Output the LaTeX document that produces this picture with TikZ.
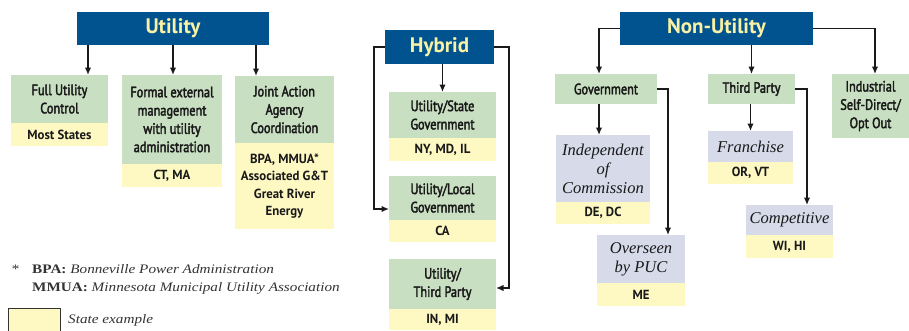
\documentclass[tikz,border=0pt]{standalone}
\usepackage{fontspec}
\usetikzlibrary{arrows.meta}
\newfontfamily\condf{PT Sans}[FakeStretch=0.82,FakeBold=2.5]
\newfontfamily\boldf{PT Sans}[FakeStretch=0.97]
\newfontfamily\titlef{PT Sans}
\newfontfamily\serf{Liberation Serif}
\newfontfamily\legf{Liberation Serif}[FakeStretch=1.17]
\definecolor{cgreen}{HTML}{C9DFC2}
\definecolor{cyellow}{HTML}{FEF9C3}
\definecolor{clav}{HTML}{D6DAE9}
\definecolor{cblue}{HTML}{00538F}
\definecolor{ctitle}{HTML}{F9F2A6}
\definecolor{cline}{HTML}{1A1A1A}
\tikzset{
  base/.style={inner sep=0pt, outer sep=0pt, anchor=north west, align=center, text=black!90},
  gbox/.style={base, fill=cgreen, font=\condf\fontsize{15}{18.3}\selectfont},
  ybox/.style={base, fill=cyellow, font=\boldf\bfseries\fontsize{13.2}{17.5}\selectfont},
  lbox/.style={base, fill=clav, font=\serf\itshape\fontsize{16.5}{19}\selectfont},
  tbox/.style={base, fill=cblue, text=ctitle, font=\titlef\bfseries\fontsize{21}{24}\selectfont},
  arr/.style={-{Latex[length=7.5pt,width=6.5pt]}, line width=1.4pt, draw=cline},
  legtext/.style={anchor=west, inner sep=0pt, font=\legf\itshape\fontsize{13}{15}\selectfont, text=black!80}
}
\begin{document}
\begin{tikzpicture}[x=1pt,y=-1pt]
\useasboundingbox (0,0) rectangle (909,330);
% Utility
\node[tbox, minimum width=192, minimum height=33] (U) at (77,12) {Utility};
\node[gbox, minimum width=97, minimum height=48] (u1g) at (11,75) {Full Utility\\Control};
\node[ybox, minimum width=97, minimum height=23] (u1y) at (11,123) {Most States};
\node[gbox, minimum width=100, minimum height=89] (u2g) at (122,75) {Formal external\\management\\with utility\\administration};
\node[ybox, minimum width=100, minimum height=23] (u2y) at (122,164) {CT, MA};
\node[gbox, minimum width=99, minimum height=67] (u3g) at (235,76) {Joint Action\\Agency\\Coordination};
\node[ybox, minimum width=99, minimum height=86] (u3y) at (235,143) {BPA, MMUA*\\Associated G\&T\\Great River\\Energy};
\coordinate (ca) at (88,0);
\coordinate (cb) at (173,0);
\coordinate (cc) at (256,0);
\draw[arr] (U.south -| ca) -- (u1g.north -| ca);
\draw[arr] (U.south -| cb) -- (u2g.north -| cb);
\draw[arr] (U.south -| cc) -- (u3g.north -| cc);
% Hybrid
\node[tbox, minimum width=109, minimum height=34] (H) at (385,30) {Hybrid};
\node[gbox, minimum width=107, minimum height=46] (h1g) at (389,92) {Utility/State\\Government};
\node[ybox, minimum width=107, minimum height=23] (h1y) at (389,138) {NY, MD, IL};
\node[gbox, minimum width=107, minimum height=44] (h2g) at (389,176) {Utility/Local\\Government};
\node[ybox, minimum width=107, minimum height=22] (h2y) at (389,220) {CA};
\node[gbox, minimum width=107, minimum height=50] (h3g) at (389,259) {Utility/\\Third Party};
\node[ybox, minimum width=107, minimum height=21] (h3y) at (389,309) {IN, MI};
\draw[arr] (H.south -| h1g.north) -- (h1g.north);
\draw[arr] (H.west) -- ++(-11,0) |- ([yshift=-11pt]h2g.west);
\draw[arr] (H.east) -- ++(15,0) |- ([yshift=-4pt]h3g.east);
% Non-Utility
\node[tbox, minimum width=193, minimum height=33] (N) at (620,12) {Non-Utility};
\node[gbox, minimum width=102, minimum height=30] (gov) at (555,74) {Government};
\node[lbox, minimum width=94, minimum height=67] (ind) at (556,135) {Independent\\of\\Commission};
\node[ybox, minimum width=94, minimum height=22] (indy) at (556,202) {DE, DC};
\node[lbox, minimum width=88, minimum height=48] (ovs) at (597,235) {Overseen\\by PUC};
\node[ybox, minimum width=88, minimum height=23] (ovsy) at (597,283) {ME};
\node[gbox, minimum width=87, minimum height=30] (tp) at (708,74) {Third Party};
\node[lbox, minimum width=85, minimum height=31] (fr) at (708,131) {Franchise};
\node[ybox, minimum width=85, minimum height=22] (fry) at (708,162) {OR, VT};
\node[lbox, minimum width=87, minimum height=30] (comp) at (746,205) {Competitive};
\node[ybox, minimum width=87, minimum height=23] (compy) at (746,235) {WI, HI};
\node[gbox, minimum width=77, minimum height=64] (indus) at (832,74) {Industrial\\Self-Direct/\\Opt Out};
\coordinate (g1) at (599,0);
\coordinate (g2) at (668,0);
\coordinate (t2) at (807,0);
\coordinate (n3) at (875,0);
\draw[arr] (N.west) -| (gov.north -| g1);
\draw[arr] (N.south -| tp.north) -- (tp.north);
\draw[arr] (N.east) -| (indus.north -| n3);
\draw[arr] (gov.south -| g1) -- (ind.north -| g1);
\draw[arr] (gov.east) -| (ovs.north -| g2);
\draw[arr] (tp.south -| fr.north) -- (fr.north);
\draw[arr] (tp.east) -| (comp.north -| t2);
% Legend
\node[legtext] (star) at (11,269) {*};
\node[legtext] (l1) at (32,269) {{\upshape\bfseries BPA:} Bonneville Power Administration};
\node[legtext] (l2) at (32,288) {{\upshape\bfseries MMUA:} Minnesota Municipal Utility Association};
\node[draw=black!80, line width=0.8pt, fill=cyellow, anchor=north west, minimum width=52, minimum height=30, inner sep=0pt] (key) at (8,308) {};
\node[legtext] (keytext) at (68,320) {State example};
\end{tikzpicture}
\end{document}
